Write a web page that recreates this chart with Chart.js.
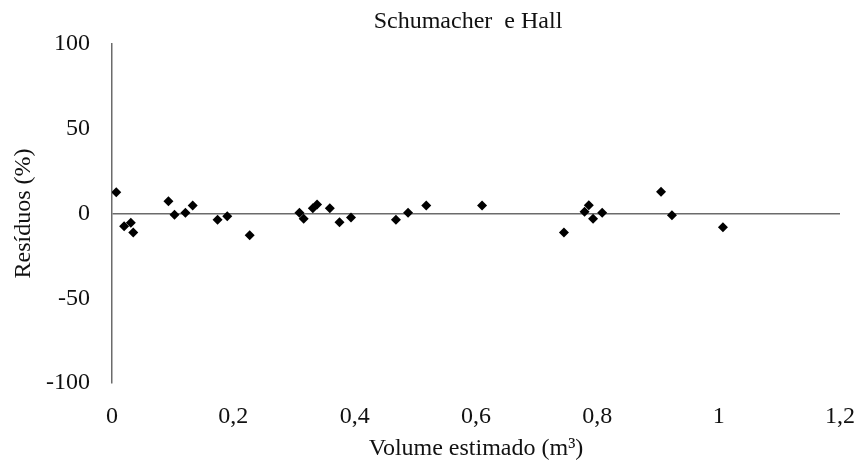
<!DOCTYPE html>
<html>
<head>
<meta charset="utf-8">
<script src="https://cdn.jsdelivr.net/npm/chart.js@4"></script>
<style>
  html, body { margin: 0; padding: 0; background: #fff; }
  #wrap { position: relative; width: 857px; height: 461px; }
</style>
</head>
<body>
<div id="wrap"><canvas id="chart"></canvas></div>
<script>
// volume estimado (m3) vs residuos (%)
const volumes = [0.007, 0.020, 0.031, 0.035, 0.093, 0.103, 0.121, 0.133, 0.174, 0.190,
                 0.227, 0.309, 0.316, 0.331, 0.338, 0.359, 0.375, 0.394, 0.468, 0.488,
                 0.518, 0.610, 0.745, 0.779, 0.786, 0.793, 0.808, 0.905, 0.923, 1.007];
const residuals = [12.5, -7.5, -5.5, -11.2, 7.3, -0.8, 0.4, 4.7, -3.7, -1.6,
                   -12.8, 0.4, -3.1, 3.1, 5.3, 3.1, -5.1, -2.4, -3.7, 0.4,
                   4.7, 4.7, -11.2, 1.0, 4.9, -3.1, 0.4, 12.8, -1.0, -8.1];
const xTickLabels = ['0', '0,2', '0,4', '0,6', '0,8', '1', '1,2'];
const yTickLabels = ['-100', '-50', '0', '50', '100'];
const chartTitle = 'Schumacher  e Hall';

const serif = 'Liberation Serif, Times New Roman, serif';
const textColor = '#111';
const axisColor = '#6b6b6b';
const fontSize = 24;

const points = volumes.map((v, i) => ({ x: v, y: residuals[i] }));

// title over the plot area, a bit left of centre like the excel original
const plotTitle = {
    id: 'plotTitle',
    afterDraw(chart) {
        const { ctx, chartArea } = chart;
        ctx.save();
        ctx.font = fontSize + 'px ' + serif;
        ctx.fillStyle = textColor;
        ctx.textAlign = 'center';
        ctx.textBaseline = 'middle';
        ctx.fillText(chartTitle, (chartArea.left + chartArea.right) / 2 - 8, 22);
        ctx.restore();
    }
};

new Chart(document.getElementById('chart'), {
    type: 'scatter',
    data: {
        datasets: [{
            data: points,
            pointStyle: 'rectRot',
            pointRadius: 5,
            pointHoverRadius: 5,
            backgroundColor: '#000',
            borderColor: '#000',
            borderWidth: 0
        }]
    },
    plugins: [plotTitle],
    options: {
        responsive: true,
        maintainAspectRatio: false,
        animation: false,
        layout: { padding: { left: 0, right: 17, top: 44, bottom: 0 } },
        plugins: {
            legend: { display: false },
            tooltip: { enabled: false },
            title: { display: false }
        },
        scales: {
            x: {
                type: 'linear',
                min: 0,
                max: 1.2,
                afterFit: (scale) => { scale.height = 78; },
                border: { display: false },
                // invisible tick marks push the labels down without widening the side padding
                grid: {
                    drawOnChartArea: false,
                    drawTicks: true,
                    tickLength: 19,
                    color: 'rgba(0,0,0,0)'
                },
                ticks: {
                    stepSize: 0.2,
                    padding: 0,
                    color: textColor,
                    font: { family: serif, size: fontSize },
                    callback: (v) => xTickLabels[Math.round(v / 0.2)]
                },
                title: {
                    display: true,
                    text: 'Volume estimado (m³)',
                    color: textColor,
                    font: { family: serif, size: fontSize },
                    padding: { top: 0, bottom: -2 }
                }
            },
            y: {
                min: -100,
                max: 100,
                afterFit: (scale) => { scale.width = 112; },
                border: { display: true, color: axisColor, width: 1.5 },
                grid: {
                    drawTicks: false,
                    lineWidth: 1.5,
                    color: (ctx) => ctx.tick && ctx.tick.value === 0 ? axisColor : 'rgba(0,0,0,0)'
                },
                ticks: {
                    stepSize: 50,
                    padding: 22,
                    color: textColor,
                    font: { family: serif, size: fontSize },
                    callback: (v) => yTickLabels[Math.round((v + 100) / 50)]
                },
                title: {
                    display: true,
                    text: 'Resíduos (%)',
                    color: textColor,
                    font: { family: serif, size: fontSize },
                    padding: { top: 9.6, bottom: 0 }
                }
            }
        }
    }
});
</script>
</body>
</html>
